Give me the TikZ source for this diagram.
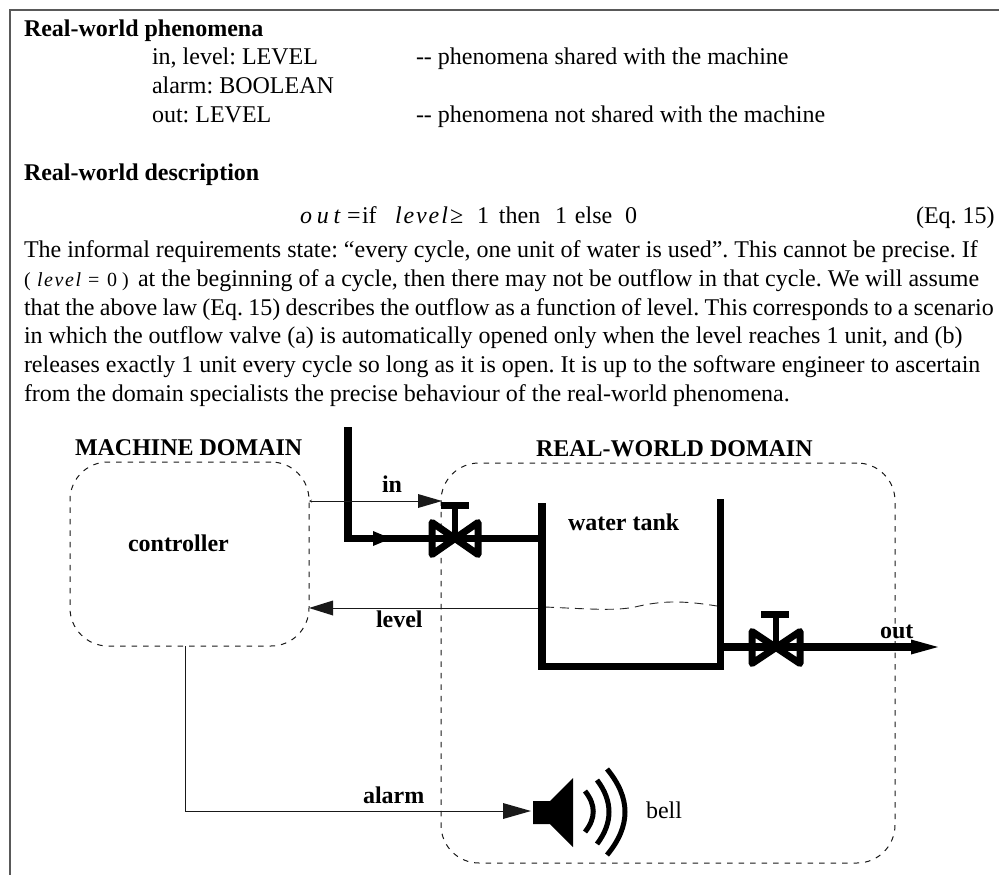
\documentclass[tikz,border=0pt]{standalone}
\usepackage{fontspec}
\usetikzlibrary{arrows.meta}
\setmainfont{Liberation Serif}
\newcommand{\eqpiece}[2]{\makebox[#1pt][l]{#2}}
\newcommand{\spacedit}[1]{{\itshape\addfontfeature{LetterSpace=8}#1}}
\newcommand{\widerit}[1]{{\itshape\addfontfeature{LetterSpace=20}#1}}
\tikzset{
  x=1pt,y=-1pt,
  txt/.style={anchor=base west,inner sep=0pt,outer sep=0pt,font=\fontsize{24}{29}\selectfont\frenchspacing},
  lab/.style={txt,font=\fontsize{24}{29}\selectfont\bfseries},
  domainbox/.style={draw=black!90,line width=1pt,dash pattern=on 5.5pt off 6pt,rounded corners=38pt,inner sep=0pt,outer sep=0pt,anchor=north west},
  pipeline/.style={line width=7.2pt,miter limit=10},
  valvebody/.style={line width=7pt,line join=round},
  signal/.style={line width=1pt,black!90},
  bigtip/.style={-{Triangle[length=24pt,width=15pt,line width=0pt]}},
  soundwave/.style={line width=5pt,line cap=butt}
}
\begin{document}
\begin{tikzpicture}
\useasboundingbox (0,0) rectangle (999,875);
\draw[black!65,line width=1.4pt] (10,875) -- (10,10) -- (999,10);

% text
\node[lab] (t1) at (24,36.5) {Real-world phenomena};
\node[txt] (t2) at (152,65) {in, level: LEVEL};
\node[txt] (t3) at (416,65) {-\kern0pt- phenomena shared with the machine};
\node[txt] (t4) at (152,94) {alarm: BOOLEAN};
\node[txt] (t5) at (152,122.5) {out: LEVEL};
\node[txt] (t6) at (416,122.5) {-\kern0pt- phenomena not shared with the machine};
\node[lab] (t7) at (24,180.5) {Real-world description};
\node[txt] (eq) at (300,223) {\eqpiece{47}{\widerit{out}}\eqpiece{15}{=}\eqpiece{33}{if}\eqpiece{55}{\spacedit{level}}\eqpiece{27}{≥}\eqpiece{22}{1}\eqpiece{56}{then}\eqpiece{20}{1}\eqpiece{50}{else}0};
\node[txt] (eqn) at (916,223) {(Eq. 15)};
\node[txt] (p1) at (24,257.7) {The informal requirements state: “every cycle, one unit of water is used”. This cannot be precise. If};
\node[txt] (p2) at (24,286.5) {{\fontsize{20}{24}\selectfont\eqpiece{13}{(}\eqpiece{51}{\spacedit{level}}\eqpiece{19}{=}\eqpiece{15}{0}\eqpiece{16}{)}}at the beginning of a cycle, then there may not be outflow in that cycle. We will assume};
\node[txt] (p3) at (24,315.5) {\spaceskip=5.3pt that the above law (Eq. 15) describes the outflow as a function of level. This corresponds to a scenario};
\node[txt] (p4) at (24,343.5) {in which the outflow valve (a) is automatically opened only when the level reaches 1 unit, and (b)};
\node[txt] (p5) at (24,372.3) {releases exactly 1 unit every cycle so long as it is open. It is up to the software engineer to ascertain};
\node[txt] (p6) at (24,401.3) {from the domain specialists the precise behaviour of the real-world phenomena.};

% domains
\node[domainbox,minimum width=239pt,minimum height=184pt] (machine) at (70,462) {};
\node[domainbox,minimum width=454pt,minimum height=400pt] (real) at (441,463) {};
\node[lab] (mlabel) at (75,455) {MACHINE DOMAIN};
\node[lab] (rlabel) at (536,456) {REAL-WORLD DOMAIN};
\node[lab] (ctrl) at (128,551.5) {controller};
\node[lab] (tank) at (568,530) {water tank};
\node[lab] (linLabel) at (382,492) {in};
\node[lab] (lvlLabel) at (376,627) {level};
\node[lab] (almLabel) at (363,803) {alarm};
\node[lab] (outLabel) at (880,638) {out};
\node[txt] (bell) at (646,818) {bell};

% named points
\coordinate (inSrc) at (309,501);
\coordinate (inDst) at (442,501);
\coordinate (lvlSrc) at (538,608);
\coordinate (lvlDst) at (309,608);
\coordinate (almSrc) at (185.5,646);
\coordinate (almCorner) at (185.5,811);
\coordinate (almDst) at (531,811);
\coordinate (pipeTop) at (348,427);
\coordinate (pipeCorner) at (348,538.5);
\coordinate (wallL) at (542,538.5);
\coordinate (valveA) at (455,538.5);
\coordinate (valveB) at (776,647);
\coordinate (wallR) at (720.5,647);
\coordinate (outTip) at (938,647);

% water surface
\draw[black!85,line width=0.9pt,dash pattern=on 9pt off 6pt] (545,607) .. controls (590,609) and (615,611) .. (635,607) .. controls (660,601) and (680,600) .. (717,606);

% tank
\draw[pipeline] (542,503) -- (542,666.5) -- (720.5,666.5) -- (720.5,499);

% inlet
\draw[pipeline] (pipeTop) -- (pipeCorner) -- (wallL);
\fill (373,531) -- (391,538.5) -- (373,546) -- cycle;
\draw[valvebody] (432,522.5) -- (478,554.5) -- (478,522.5) -- (432,554.5) -- cycle;
\draw[line width=6.5pt] (valveA) -- (455,505);
\draw[line width=7pt] (441,505) -- (469,505);

% outlet
\draw[pipeline,-{Triangle[length=27pt,width=15pt,line width=0pt]}] (wallR) -- (outTip);
\draw[valvebody] (752,631.5) -- (800,663.5) -- (800,631.5) -- (752,663.5) -- cycle;
\draw[line width=6.5pt] (valveB) -- (776,614);
\draw[line width=7pt] (761,614) -- (789,614);

% signals
\draw[signal,{Stealth[length=3pt,width=3pt,line width=0pt]}-{Triangle[length=24pt,width=14pt,line width=0pt]}] (inSrc) -- (inDst);
\draw[signal,bigtip] (lvlSrc) -- (lvlDst);
\draw[signal,-{Triangle[length=28pt,width=16pt,line width=0pt]}] (almSrc) -- (almCorner) -- (almDst);

% speaker
\fill (533,801) -- (550,801) -- (573,778) -- (573,847) -- (550,824) -- (533,824) -- cycle;
\draw[soundwave] (585,791) .. controls (596,805) and (596,818) .. (585,832);
\draw[soundwave] (597,780) .. controls (613,801) and (613,823) .. (597,844);
\draw[soundwave] (607,769) .. controls (631,798) and (631,826) .. (607,855);
\end{tikzpicture}
\end{document}
